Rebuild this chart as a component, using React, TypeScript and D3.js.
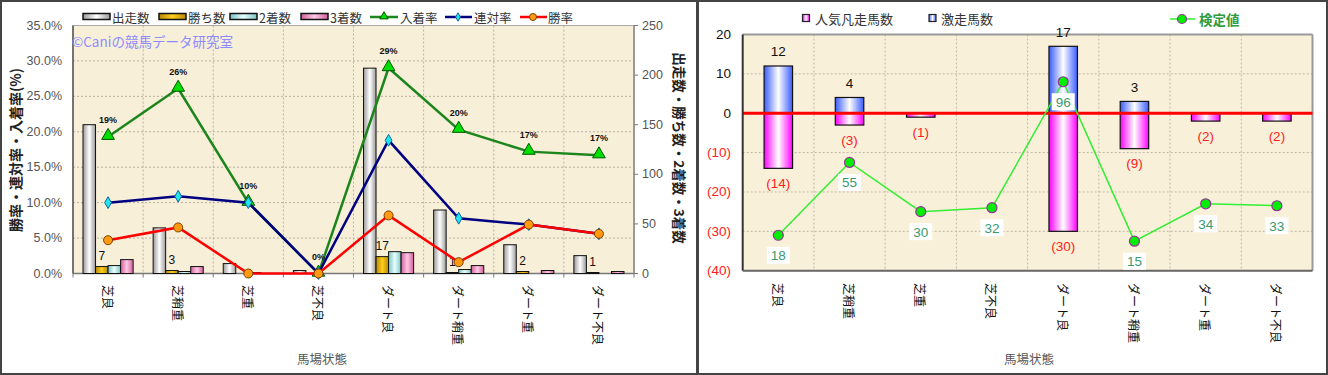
import React from 'react';
import * as d3 from 'd3';

const categories = ['芝良', '芝稍重', '芝重', '芝不良', 'ダート良', 'ダート稍重', 'ダート重', 'ダート不良'];
const runs = [150, 46, 10, 3, 207, 64, 29, 18];
const wins = [7, 3, 0, 0, 17, 1, 2, 1];
const seconds = [8, 2, 1, 0, 22, 4, 0, 0];
const thirds = [14, 7, 0, 0, 21, 8, 3, 2];
const placeRate = [19.3, 26.1, 10.0, 0, 29.0, 20.3, 17.2, 16.7];
const rentaiRate = [10.0, 10.9, 10.0, 0, 18.8, 7.8, 6.9, 5.6];
const winRate = [4.7, 6.5, 0, 0, 8.2, 1.6, 6.9, 5.6];
const placeLabels = ['19%', '26%', '10%', '0%', '29%', '20%', '17%', '17%'];
const leftTicks = [0, 5, 10, 15, 20, 25, 30, 35];
const rightTicks = [0, 50, 100, 150, 200, 250];

const upsets = [12, 4, 0, 0, 17, 3, 0, 0];
const flops = [14, 3, 1, 0, 30, 9, 2, 2];
const testValues = [18, 55, 30, 32, 96, 15, 34, 33];
const rTicks = [20, 10, 0, -10, -20, -30, -40];

const FONT = '"Liberation Sans", "Noto Sans CJK JP", sans-serif';
const JFONT = '"Noto Sans CJK JP", sans-serif';

function Grad({ id, edge, mid }: { id: string; edge: string; mid: string }) {
  return (
    <linearGradient id={id} x1="0" x2="1" y1="0" y2="0">
      <stop offset="0" stopColor={edge} />
      <stop offset="0.5" stopColor={mid} />
      <stop offset="1" stopColor={edge} />
    </linearGradient>
  );
}

function LeftChart() {
  const L = 73, R = 634, T = 25.5, B = 273.5;
  const yL = d3.scaleLinear().domain([0, 35]).range([B, T]);
  const yR = d3.scaleLinear().domain([0, 250]).range([B, T]);
  const x = d3.scaleBand<string>().domain(categories).range([L, R]);
  const bw = x.bandwidth();
  const barKeys = ['runs', 'wins', 'seconds', 'thirds'];
  const xs = d3.scaleBand<string>().domain(barKeys).range([10, bw - 10]);
  const barSeries = [
    { key: 'runs', name: '出走数', values: runs, fill: 'url(#gRuns)' },
    { key: 'wins', name: '勝ち数', values: wins, fill: 'url(#gWins)' },
    { key: 'seconds', name: '2着数', values: seconds, fill: 'url(#gSec)' },
    { key: 'thirds', name: '3着数', values: thirds, fill: 'url(#gThi)' },
  ];
  const cx = (c: string) => (x(c) as number) + bw / 2;
  const line = (vals: number[]) =>
    d3.line<number>().x((_, i) => cx(categories[i])).y((v) => yL(v))(vals) as string;
  const tri = d3.symbol().type(d3.symbolTriangle).size(70)() as string;
  const dia = d3.symbol().type(d3.symbolDiamond).size(40)() as string;

  return (
    <g>
      <rect x={L} y={T} width={R - L} height={B - T} fill="#f8efd9" />
      {leftTicks.map((t) => (
        <line key={'hg' + t} x1={L} x2={R} y1={yL(t)} y2={yL(t)} stroke="#b8b0a0" strokeDasharray="2,2" strokeWidth={1} />
      ))}
      {categories.slice(1).map((c) => (
        <line key={'vg' + c} x1={x(c)} x2={x(c)} y1={T} y2={B} stroke="#b8b0a0" strokeDasharray="2,2" strokeWidth={1} />
      ))}
      <rect x={L} y={T} width={R - L} height={B - T} fill="none" stroke="#aaa" strokeWidth={1} />
      <line x1={L} x2={L} y1={T} y2={B} stroke="#555" strokeWidth={1.5} />
      <line x1={L} x2={R} y1={B} y2={B} stroke="#777" strokeWidth={1.5} />
      <line x1={R} x2={R} y1={T} y2={B} stroke="#888" strokeWidth={1.5} />
      {categories.map((c) => (
        <line key={'xt' + c} x1={x(c)} x2={x(c)} y1={B} y2={B + 4} stroke="#777" />
      ))}
      <line x1={R} x2={R} y1={B} y2={B + 4} stroke="#777" />
      {rightTicks.map((t) => (
        <line key={'rt' + t} x1={R} x2={R + 4} y1={yR(t)} y2={yR(t)} stroke="#777" />
      ))}
      <text x={72} y={41} fontFamily={JFONT} fontSize={13.5} fill="#8c8cff" dominantBaseline="central">©Caniの競馬データ研究室</text>
      {barSeries.map((s) =>
        s.values.map((v, i) => {
          const bx = (x(categories[i]) as number) + (xs(s.key) as number);
          return (
            <rect key={s.key + i} x={bx} y={yR(v)} width={xs.bandwidth()} height={Math.max(0, B - yR(v))} fill={s.fill} stroke="#111" strokeWidth={1} />
          );
        })
      )}
      {wins.map((v, i) =>
        v > 0 ? (
          <text key={'wl' + i} x={(x(categories[i]) as number) + (xs('wins') as number) + xs.bandwidth() / 2} y={yR(v) - 11} fontFamily={FONT} fontSize={12} fill="#111" textAnchor="middle" dominantBaseline="central">{v}</text>
        ) : null
      )}
      <path d={line(placeRate)} fill="none" stroke="#1c861c" strokeWidth={2.5} />
      {placeRate.map((v, i) => (
        <path key={'pt' + i} d={tri} transform={`translate(${cx(categories[i])},${yL(v) - 1})`} fill="#00e000" stroke="#005500" strokeWidth={1} />
      ))}
      <path d={line(rentaiRate)} fill="none" stroke="#000080" strokeWidth={2.5} />
      {rentaiRate.map((v, i) => (
        <path key={'rd' + i} d={dia} transform={`translate(${cx(categories[i])},${yL(v)})`} fill="#22e6ee" stroke="#1060a0" strokeWidth={1} />
      ))}
      <path d={line(winRate)} fill="none" stroke="#ff0000" strokeWidth={2.5} />
      {winRate.map((v, i) => (
        <circle key={'wc' + i} cx={cx(categories[i])} cy={yL(v)} r={4.5} fill="#ff9a10" stroke="#7a4000" strokeWidth={1} />
      ))}
      {placeRate.map((v, i) => (
        <text key={'pl' + i} x={cx(categories[i])} y={yL(v) - 17} fontFamily={FONT} fontSize={9} fontWeight="bold" fill="#111" textAnchor="middle" dominantBaseline="central">{placeLabels[i]}</text>
      ))}
      {leftTicks.map((t) => (
        <text key={'lt' + t} x={62} y={yL(t)} fontFamily={FONT} fontSize={12.5} fill="#555" textAnchor="end" dominantBaseline="central">{t.toFixed(1) + '%'}</text>
      ))}
      {rightTicks.map((t) => (
        <text key={'rl' + t} x={642} y={yR(t)} fontFamily={FONT} fontSize={12.5} fill="#555" textAnchor="start" dominantBaseline="central">{t}</text>
      ))}
      {categories.map((c) => (
        <text key={'cl' + c} transform={`translate(${cx(c)},285) rotate(90)`} fontFamily={JFONT} fontSize={12} fill="#111" textAnchor="start" dominantBaseline="central">{c}</text>
      ))}
      <text x={322} y={358} fontFamily={JFONT} fontSize={12.5} fill="#555" textAnchor="middle" dominantBaseline="central">馬場状態</text>
      <text transform="translate(15,150) rotate(-90)" fontFamily={JFONT} fontSize={14} fontWeight="bold" fill="#222" textAnchor="middle" dominantBaseline="central">勝率・連対率・入着率(%)</text>
      <text transform="translate(680,148) rotate(90)" fontFamily={JFONT} fontSize={13.5} fontWeight="bold" fill="#222" textAnchor="middle" dominantBaseline="central">出走数・勝ち数・2着数・3着数</text>
      {/* legend */}
      {[
        { x: 83, fill: 'url(#gRuns)', label: '出走数' },
        { x: 159, fill: 'url(#gWins)', label: '勝ち数' },
        { x: 230, fill: 'url(#gSec)', label: '2着数' },
        { x: 301, fill: 'url(#gThi)', label: '3着数' },
      ].map((l) => (
        <g key={l.label}>
          <rect x={l.x} y={13.5} width={27} height={6} fill={l.fill} stroke="#111" strokeWidth={1.5} />
          <text x={l.x + 29} y={17} fontFamily={JFONT} fontSize={12.5} fill="#333" dominantBaseline="central">{l.label}</text>
        </g>
      ))}
      <line x1={370} x2={398} y1={17} y2={17} stroke="#1c861c" strokeWidth={2.5} />
      <path d={d3.symbol().type(d3.symbolTriangle).size(30)() as string} transform="translate(384,16.5)" fill="#00e000" stroke="#005500" />
      <text x={400} y={17} fontFamily={JFONT} fontSize={12.5} fill="#333" dominantBaseline="central">入着率</text>
      <line x1={445} x2={472} y1={17} y2={17} stroke="#000080" strokeWidth={2.5} />
      <path d={d3.symbol().type(d3.symbolDiamond).size(20)() as string} transform="translate(458,17)" fill="#22e6ee" stroke="#1060a0" />
      <text x={474} y={17} fontFamily={JFONT} fontSize={12.5} fill="#333" dominantBaseline="central">連対率</text>
      <line x1={520} x2={547} y1={17} y2={17} stroke="#ff0000" strokeWidth={2.5} />
      <circle cx={533} cy={17} r={3.5} fill="#ff9a10" stroke="#7a4000" />
      <text x={548} y={17} fontFamily={JFONT} fontSize={12.5} fill="#333" dominantBaseline="central">勝率</text>
    </g>
  );
}

function RightChart() {
  const L = 742.7, R = 1312.5, T = 34.5, B = 270.7;
  const y = d3.scaleLinear().domain([-40, 20]).range([B, T]);
  const yT = d3.scaleLinear().domain([0, 120]).range([B, T]);
  const x = d3.scaleBand<string>().domain(categories).range([L, R]);
  const bw = x.bandwidth();
  const barW = 28.5;
  const cx = (c: string) => (x(c) as number) + bw / 2;
  const testLine = d3.line<number>().x((_, i) => cx(categories[i])).y((v) => yT(v))(testValues) as string;
  const fmt = (v: number) => (v < 0 ? `(${-v})` : `${v}`);

  return (
    <g>
      <rect x={L} y={T} width={R - L} height={B - T} fill="#f9f0da" />
      {rTicks.map((t) => (
        <line key={'hg' + t} x1={L} x2={R} y1={y(t)} y2={y(t)} stroke="#c0b8a8" strokeDasharray="2,2" strokeWidth={1} />
      ))}
      {categories.slice(1).map((c) => (
        <line key={'vg' + c} x1={x(c)} x2={x(c)} y1={T} y2={B} stroke="#c0b8a8" strokeDasharray="2,2" strokeWidth={1} />
      ))}
      <line x1={L} x2={R} y1={T} y2={T} stroke="#999" strokeWidth={2} />
      <line x1={R} x2={R} y1={T} y2={B} stroke="#999" strokeWidth={2} />
      {upsets.map((v, i) =>
        v > 0 ? (
          <rect key={'u' + i} x={cx(categories[i]) - barW / 2} y={y(v)} width={barW} height={y(0) - y(v)} fill="url(#gBlue)" stroke="#111" strokeWidth={1.2} />
        ) : null
      )}
      {flops.map((v, i) =>
        v > 0 ? (
          <rect key={'f' + i} x={cx(categories[i]) - barW / 2} y={y(0)} width={barW} height={y(-v) - y(0)} fill="url(#gMag)" stroke="#111" strokeWidth={1.2} />
        ) : null
      )}
      <line x1={L} x2={R} y1={y(0)} y2={y(0)} stroke="#ff0000" strokeWidth={3} />
      <line x1={L} x2={L} y1={T} y2={B} stroke="#333" strokeWidth={2} />
      <line x1={L} x2={R} y1={B} y2={B} stroke="#666" strokeWidth={2} />
      {upsets.map((v, i) =>
        v > 0 ? (
          <text key={'ul' + i} x={cx(categories[i])} y={y(v) - 14} fontFamily={FONT} fontSize={13.5} fill="#111" textAnchor="middle" dominantBaseline="central">{v}</text>
        ) : null
      )}
      {flops.map((v, i) =>
        v > 0 ? (
          <text key={'fl' + i} x={cx(categories[i])} y={y(-v) + 15} fontFamily={FONT} fontSize={13.5} fill="#ff2020" textAnchor="middle" dominantBaseline="central">{fmt(-v)}</text>
        ) : null
      )}
      <path d={testLine} fill="none" stroke="#33ee33" strokeWidth={1.5} />
      {testValues.map((v, i) => (
        <g key={'tv' + i}>
          <rect x={cx(categories[i]) - 11.5} y={yT(v) + 11.5} width={23} height={17} fill="#ffffff" />
          <text x={cx(categories[i])} y={yT(v) + 20.5} fontFamily={FONT} fontSize={13.5} fill="#3a9a6e" textAnchor="middle" dominantBaseline="central">{v}</text>
        </g>
      ))}
      {testValues.map((v, i) => (
        <circle key={'tc' + i} cx={cx(categories[i])} cy={yT(v)} r={5} fill="#00ee00" stroke="#993399" strokeWidth={1.2} />
      ))}
      {rTicks.map((t) => (
        <text key={'yl' + t} x={731} y={y(t)} fontFamily={FONT} fontSize={13.5} fill={t < 0 ? '#ff2020' : '#111'} textAnchor="end" dominantBaseline="central">{fmt(t)}</text>
      ))}
      {categories.map((c) => (
        <text key={'cl' + c} transform={`translate(${cx(c)},283) rotate(90)`} fontFamily={JFONT} fontSize={12} fill="#111" textAnchor="start" dominantBaseline="central">{c}</text>
      ))}
      <text x={1029} y={358} fontFamily={JFONT} fontSize={12.5} fill="#555" textAnchor="middle" dominantBaseline="central">馬場状態</text>
      {/* legend */}
      <rect x={802.5} y={14.5} width={7} height={7} fill="url(#gMag)" stroke="#222" strokeWidth={1.2} />
      <text x={815} y={18} fontFamily={JFONT} fontSize={13} fill="#333" dominantBaseline="central">人気凡走馬数</text>
      <rect x={929} y={14.5} width={7} height={7} fill="url(#gBlue)" stroke="#222" strokeWidth={1.2} />
      <text x={941} y={18} fontFamily={JFONT} fontSize={13} fill="#333" dominantBaseline="central">激走馬数</text>
      <line x1={1170} x2={1195} y1={19} y2={19} stroke="#33ee33" strokeWidth={1.5} />
      <circle cx={1182} cy={19} r={4.5} fill="#00ee00" stroke="#993399" strokeWidth={1.2} />
      <text x={1199} y={19} fontFamily={JFONT} fontSize={13.5} fontWeight="bold" fill="#2e9b3e" dominantBaseline="central">検定値</text>
    </g>
  );
}

export default function App() {
  return (
    <svg width={1328} height={375} style={{ position: 'absolute', left: 0, top: 0, background: '#fff' }}>
      <defs>
        <Grad id="gRuns" edge="#9a9a9a" mid="#ffffff" />
        <Grad id="gWins" edge="#b88a00" mid="#ffcc20" />
        <Grad id="gSec" edge="#7ac4c4" mid="#e8ffff" />
        <Grad id="gThi" edge="#d0609a" mid="#ffc8e4" />
        <Grad id="gBlue" edge="#3a5cff" mid="#ffffff" />
        <Grad id="gMag" edge="#ff00ff" mid="#ffffff" />
      </defs>
      <rect x={0} y={0} width={1328} height={375} fill="#fff" />
      <LeftChart />
      <RightChart />
      <rect x={1} y={1} width={1326} height={373} fill="none" stroke="#444" strokeWidth={2} />
      <line x1={697.5} x2={697.5} y1={0} y2={375} stroke="#444" strokeWidth={3} />
    </svg>
  );
}
